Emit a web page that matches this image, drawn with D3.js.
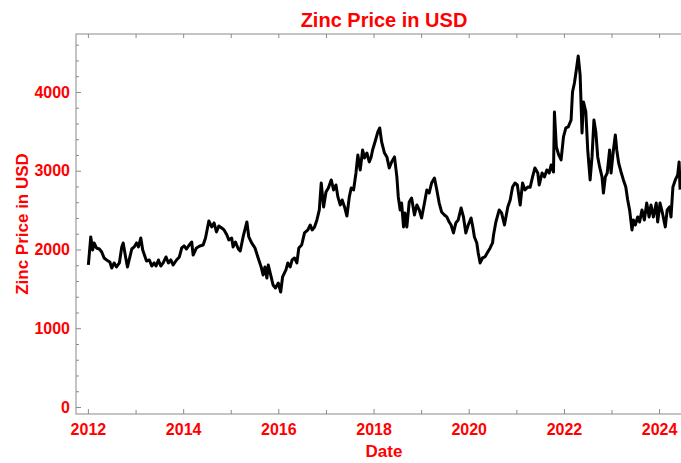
<!DOCTYPE html>
<html>
<head>
<meta charset="utf-8">
<script src="https://cdn.jsdelivr.net/npm/d3@7"></script>
<style>
  body { margin: 0; background: #fff; }
  .lbl { font-family: "Liberation Sans", Arial, sans-serif; font-weight: bold; fill: #ff0000; }
  .axis text { font-family: "Liberation Sans", Arial, sans-serif; font-weight: bold; fill: #ff0000; font-size: 16px; }
  .axis line { stroke: #8a8a8a; }
  .axis path { display: none; }
</style>
</head>
<body>
<div class="chart"></div>
<script>
// zinc price (decimal year / USD)
var years = [
  2012.01, 2012.06, 2012.10, 2012.13, 2012.18, 2012.24, 2012.29, 2012.34, 2012.39, 2012.46,
  2012.50, 2012.55, 2012.60, 2012.66, 2012.71, 2012.74, 2012.79, 2012.83, 2012.88, 2012.92,
  2012.97, 2013.02, 2013.06, 2013.11, 2013.15, 2013.20, 2013.23, 2013.29, 2013.34, 2013.39,
  2013.43, 2013.48, 2013.53, 2013.58, 2013.64, 2013.69, 2013.74, 2013.79, 2013.86, 2013.92,
  2013.97, 2014.02, 2014.07, 2014.13, 2014.18, 2014.21, 2014.28, 2014.35, 2014.42, 2014.47,
  2014.54, 2014.60, 2014.65, 2014.70, 2014.75, 2014.81, 2014.86, 2014.92, 2014.96, 2015.02,
  2015.05, 2015.10, 2015.16, 2015.20, 2015.26, 2015.34, 2015.38, 2015.44, 2015.51, 2015.57,
  2015.64, 2015.68, 2015.72, 2015.76, 2015.79, 2015.85, 2015.89, 2015.94, 2016.00, 2016.05,
  2016.09, 2016.16, 2016.20, 2016.25, 2016.29, 2016.34, 2016.39, 2016.43, 2016.49, 2016.55,
  2016.62, 2016.67, 2016.71, 2016.76, 2016.81, 2016.86, 2016.90, 2016.95, 2017.00, 2017.05,
  2017.11, 2017.16, 2017.21, 2017.25, 2017.30, 2017.34, 2017.39, 2017.44, 2017.49, 2017.53,
  2017.58, 2017.63, 2017.67, 2017.72, 2017.77, 2017.81, 2017.86, 2017.91, 2017.95, 2017.98,
  2018.03, 2018.09, 2018.13, 2018.17, 2018.23, 2018.28, 2018.33, 2018.38, 2018.44, 2018.49,
  2018.52, 2018.56, 2018.59, 2018.63, 2018.66, 2018.70, 2018.75, 2018.80, 2018.86, 2018.91,
  2018.96, 2019.01, 2019.07, 2019.12, 2019.17, 2019.22, 2019.28, 2019.33, 2019.38, 2019.43,
  2019.49, 2019.54, 2019.59, 2019.63, 2019.68, 2019.73, 2019.78, 2019.84, 2019.89, 2019.94,
  2019.99, 2020.05, 2020.09, 2020.12, 2020.17, 2020.20, 2020.24, 2020.29, 2020.34, 2020.40,
  2020.45, 2020.50, 2020.52, 2020.57, 2020.64, 2020.69, 2020.75, 2020.82, 2020.87, 2020.92,
  2020.97, 2021.02, 2021.08, 2021.13, 2021.18, 2021.24, 2021.29, 2021.34, 2021.39, 2021.45,
  2021.48, 2021.54, 2021.59, 2021.64, 2021.69, 2021.73, 2021.78, 2021.80, 2021.84, 2021.89,
  2021.94, 2021.99, 2022.04, 2022.09, 2022.15, 2022.18, 2022.22, 2022.26, 2022.30, 2022.34,
  2022.38, 2022.41, 2022.46, 2022.50, 2022.55, 2022.59, 2022.63, 2022.67, 2022.71, 2022.75,
  2022.80, 2022.83, 2022.87, 2022.91, 2022.96, 2022.99, 2023.04, 2023.08, 2023.11, 2023.15,
  2023.20, 2023.25, 2023.30, 2023.34, 2023.38, 2023.43, 2023.46, 2023.50, 2023.55, 2023.59,
  2023.64, 2023.69, 2023.74, 2023.79, 2023.83, 2023.88, 2023.94, 2023.97, 2024.02, 2024.07,
  2024.13, 2024.17, 2024.22, 2024.25, 2024.29, 2024.34, 2024.39, 2024.42, 2024.44
];
var prices = [
  1803, 2159, 1994, 2083, 2019, 2006, 1968, 1892, 1867, 1841,
  1765, 1829, 1778, 1829, 2032, 2083, 1905, 1778, 1905, 2006,
  2032, 2083, 2032, 2146, 1994, 1905, 1854, 1867, 1790, 1829,
  1790, 1867, 1790, 1829, 1905, 1829, 1867, 1803, 1867, 1905,
  2019, 2045, 2006, 2057, 2095, 1930, 2019, 2045, 2057, 2146,
  2362, 2286, 2337, 2222, 2298, 2273, 2248, 2184, 2121, 2146,
  2032, 2095, 2006, 1981, 2159, 2349, 2159, 2083, 2019, 1905,
  1778, 1676, 1778, 1638, 1803, 1651, 1549, 1511, 1575, 1460,
  1651, 1740, 1829, 1778, 1867, 1892, 1830, 2019, 2057, 2210,
  2248, 2311, 2248, 2286, 2375, 2502, 2844, 2540, 2730, 2781,
  2883, 2756, 2819, 2667, 2565, 2629, 2540, 2425, 2667, 2781,
  2756, 2971, 3200, 3010, 3263, 3162, 3225, 3111, 3175, 3263,
  3365, 3492, 3543, 3365, 3225, 3175, 3035, 3111, 3175, 2921,
  2667, 2502, 2590, 2286, 2464, 2286, 2603, 2654, 2438, 2565,
  2502, 2400, 2590, 2756, 2717, 2844, 2908, 2756, 2590, 2476,
  2438, 2413, 2349, 2311, 2210, 2337, 2375, 2527, 2413, 2210,
  2311, 2400, 2273, 2159, 2083, 1956, 1829, 1892, 1905, 1968,
  2019, 2083, 2180, 2349, 2502, 2464, 2311, 2540, 2629, 2794,
  2844, 2819, 2565, 2844, 2756, 2794, 2790, 2921, 3035, 2971,
  2819, 2971, 2921, 3010, 2971, 3073, 2984, 3746, 3302, 3200,
  3137, 3429, 3543, 3556, 3644, 4000, 4114, 4279, 4457, 4216,
  3479, 3873, 3746, 3263, 2883, 3175, 3644, 3492, 3175, 3048,
  2921, 2717, 2921, 2971, 3263, 2971, 3263, 3454, 3263, 3098,
  2984, 2883, 2794, 2629, 2502, 2248, 2375, 2311, 2413, 2349,
  2502, 2375, 2590, 2413, 2565, 2413, 2590, 2349, 2590, 2464,
  2286, 2502, 2540, 2413, 2794, 2883, 2946, 3111, 2760
];
var yearTicks = [2012, 2014, 2016, 2018, 2020, 2022, 2024];
var yearMinor = [2013, 2015, 2017, 2019, 2021, 2023];
var priceTicks = [0, 1000, 2000, 3000, 4000];
var priceMinor = [200, 400, 600, 800, 1200, 1400, 1600, 1800, 2200, 2400, 2600, 2800,
                  3200, 3400, 3600, 3800, 4200, 4400, 4600];

var svgWidth = 681, svgHeight = 463;
var margin = { top: 34, bottom: 49, left: 76, right: -11 };
var width = svgWidth - margin.left - margin.right;
var height = svgHeight - margin.top - margin.bottom;

// decimal year -> Date
function toDate(y) {
  var yr = Math.floor(y);
  var a = new Date(yr, 0, 1), b = new Date(yr + 1, 0, 1);
  return new Date(+a + (y - yr) * (b - a));
}

var svg = d3.select(".chart").append("svg")
  .attr("width", svgWidth)
  .attr("height", svgHeight);

var chartGroup = svg.append("g")
  .attr("transform", `translate(${margin.left}, ${margin.top})`);

var xScale = d3.scaleTime()
  .domain([toDate(2011.75), toDate(2024.69)])
  .range([0, width]);

var yScale = d3.scaleLinear()
  .domain([-89, 4736])
  .range([height, 0]);

// frame
chartGroup.append("rect")
  .attr("width", width)
  .attr("height", height)
  .attr("fill", "none")
  .attr("stroke", "#8a8a8a")
  .attr("stroke-width", 1);

// bottom axis
chartGroup.append("g").attr("class", "axis")
  .attr("transform", `translate(0, ${height})`)
  .call(d3.axisBottom(xScale).tickValues(yearTicks.map(toDate)).tickSize(-5).tickPadding(10)
    .tickFormat(d3.timeFormat("%Y")));
chartGroup.append("g").attr("class", "axis")
  .attr("transform", `translate(0, ${height})`)
  .call(d3.axisBottom(xScale).tickValues(yearMinor.map(toDate)).tickSize(-4).tickFormat(""));

// top mirror ticks
chartGroup.append("g").attr("class", "axis")
  .call(d3.axisTop(xScale).tickValues(yearTicks.concat(yearMinor).map(toDate)).tickSize(-4).tickFormat(""));

// left axis
chartGroup.append("g").attr("class", "axis")
  .call(d3.axisLeft(yScale).tickValues(priceTicks).tickSize(-5).tickPadding(6)
    .tickFormat(d3.format("d")));
chartGroup.append("g").attr("class", "axis")
  .call(d3.axisLeft(yScale).tickValues(priceMinor).tickSize(-3).tickFormat(""));

// price line
var line = d3.line()
  .x((d, i) => xScale(toDate(years[i])))
  .y(d => yScale(d));

chartGroup.append("path")
  .datum(prices)
  .attr("d", line)
  .attr("fill", "none")
  .attr("stroke", "#000")
  .attr("stroke-width", 3)
  .attr("stroke-linejoin", "round");

// title and labels
svg.append("text")
  .attr("class", "lbl")
  .attr("x", 384)
  .attr("y", 27)
  .attr("text-anchor", "middle")
  .style("font-size", "20px")
  .text("Zinc Price in USD");

svg.append("text")
  .attr("class", "lbl")
  .attr("transform", "rotate(-90)")
  .attr("x", -224)
  .attr("y", 28)
  .attr("text-anchor", "middle")
  .style("font-size", "17px")
  .text("Zinc Price in USD");

svg.append("text")
  .attr("class", "lbl")
  .attr("x", 384)
  .attr("y", 457)
  .attr("text-anchor", "middle")
  .style("font-size", "17px")
  .text("Date");
</script>
</body>
</html>
